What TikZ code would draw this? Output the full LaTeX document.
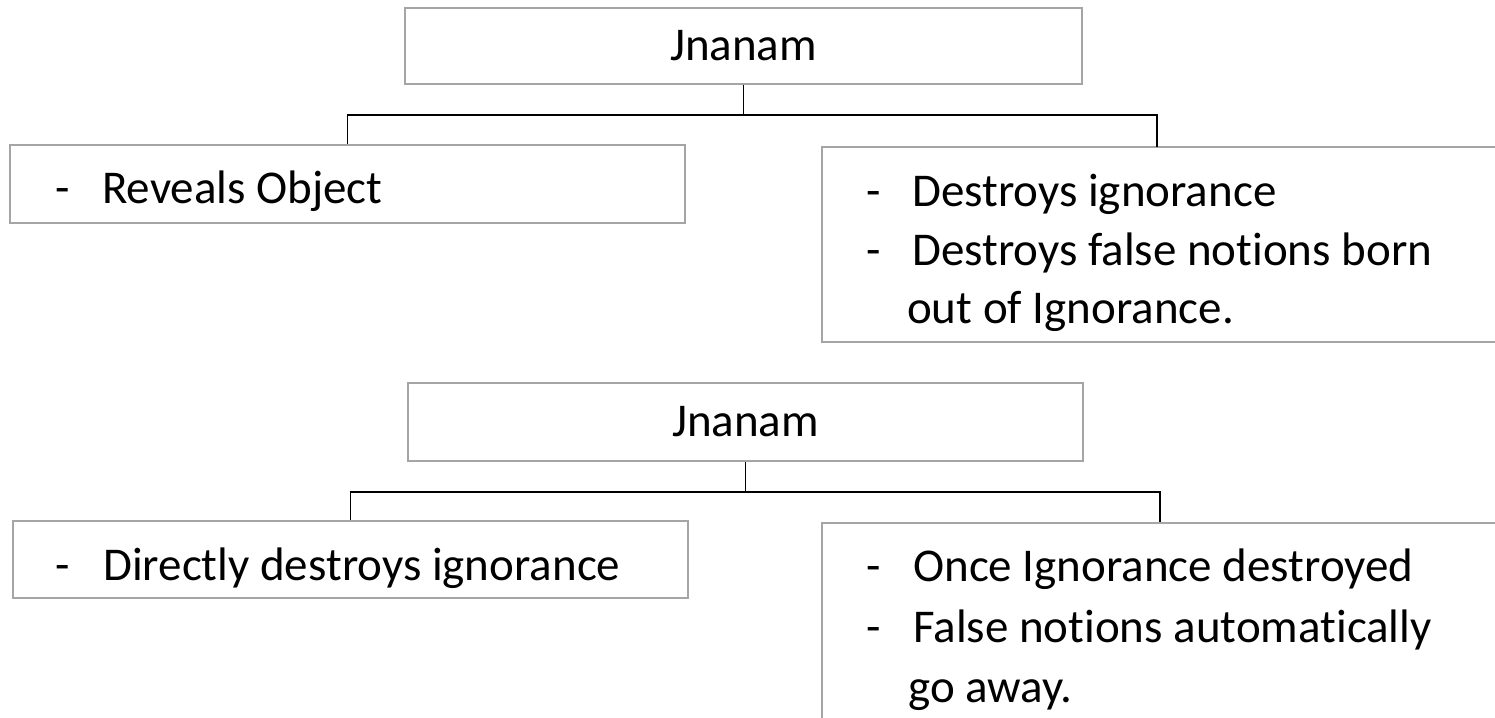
\documentclass[tikz,border=0pt]{standalone}
\usepackage{fontspec}
\setmainfont[Ligatures=NoCommon]{Carlito}
\begin{document}
\begin{tikzpicture}[x=1pt,y=-1pt,
  box/.style={draw={rgb,255:red,165;green,165;blue,165}, line width=1.2pt, fill=white,
    inner sep=0pt, font=\fontsize{47}{57}\selectfont},
  conn/.style={draw=black, line width=1.5pt},
  txt/.style={inner sep=0pt, anchor=base west, font=\fontsize{47}{57}\selectfont}]
\useasboundingbox (0,0) rectangle (1495,717);
\clip (0,0) rectangle (1495,717);

% ---- first tree ----
\node[box, minimum width=677pt, minimum height=76pt] (top1) at (743.5,46) {Jnanam};
\node[box, minimum width=675pt, minimum height=78pt] (left1) at (347.5,184) {};
\node[box, minimum width=690pt, minimum height=195pt] (right1) at (1167,244.5) {};
\coordinate (r1) at (1157,147);

\node[txt] (l1d) at (55,203) {-};
\node[txt] (l1a) at (102,203) {Reveals Object};
\node[txt] (r1d1) at (866,206) {-};
\node[txt] (r1a) at (912,206) {Destroys ignorance};
\node[txt] (r1d2) at (866,265) {-};
\node[txt] (r1b) at (912,265) {Destroys false notions born};
\node[txt] (r1c) at (907,323) {out of Ignorance.};

\draw[conn] (top1.south) -- (top1.south |- 0,115) coordinate (j1) -| (left1.north);
\draw[conn] (j1) -| (r1);

% ---- second tree ----
\node[box, minimum width=675pt, minimum height=78pt] (top2) at (745.5,422) {Jnanam};
\node[box, minimum width=675pt, minimum height=77pt] (left2) at (350.5,559.5) {};
\node[box, minimum width=676pt, minimum height=230pt] (right2) at (1160,638) {};

\node[txt] (l2d) at (55,580) {-};
\node[txt] (l2a) at (103,580) {Directly destroys ignorance};
\node[txt] (r2d1) at (866,581) {-};
\node[txt] (r2a) at (913,581) {Once Ignorance destroyed};
\node[txt] (r2d2) at (866,642) {-};
\node[txt] (r2b) at (913,642) {False notions automatically};
\node[txt] (r2c) at (908,702) {go away.};

\draw[conn] (top2.south) -- (top2.south |- 0,492) coordinate (j2) -| (left2.north);
\draw[conn] (j2) -| (right2.north);
\end{tikzpicture}
\end{document}
